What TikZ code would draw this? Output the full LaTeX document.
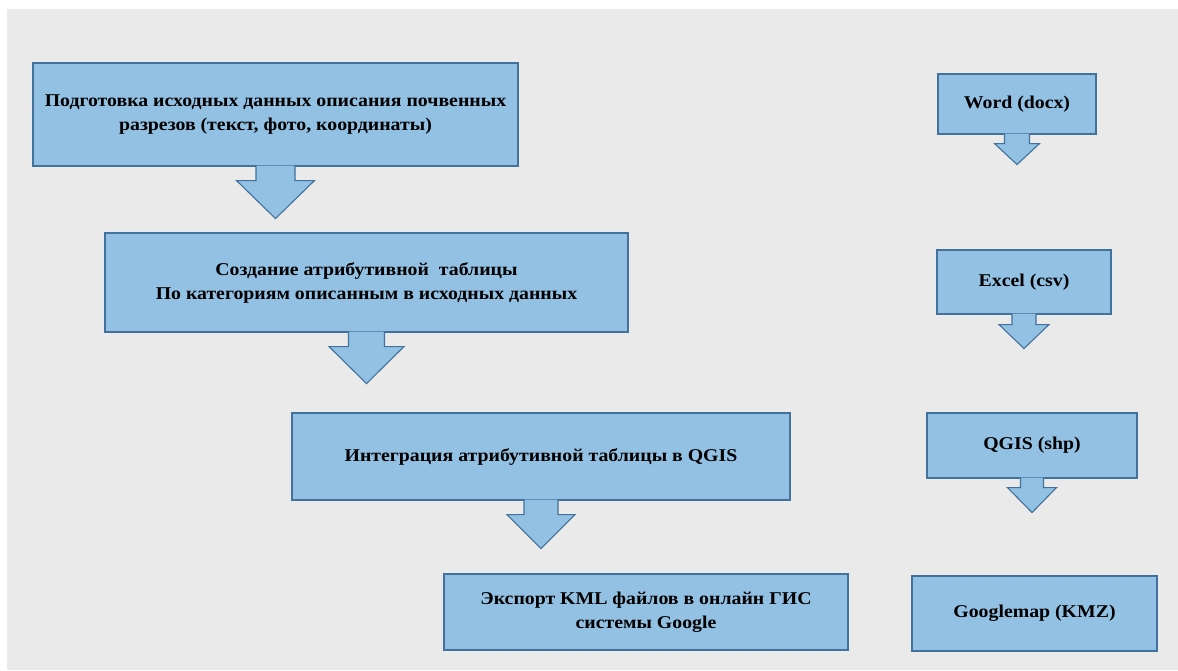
\documentclass[tikz,border=0pt]{standalone}
\usepackage{fontspec}
\setmainfont{Liberation Serif}[FakeStretch=1.1]
\usetikzlibrary{positioning}

\definecolor{boxfill}{HTML}{93C1E3}
\definecolor{boxline}{HTML}{41719C}
\definecolor{backgr}{HTML}{EAEAEA}

\tikzset{
  stagebox/.style={rectangle, draw=boxline, fill=boxfill, line width=1.1pt,
    align=center, inner sep=0pt, text=black,
    font=\bfseries\fontsize{18}{24}\selectfont},
  downarrow/.style={draw=boxline, fill=boxfill, line width=1.1pt, line join=miter},
}

% block arrow under a box: node, shaft half width, head half width, head start, tip
\newcommand{\blockarrow}[5]{%
  \filldraw[downarrow, shift={(#1.south)}]
    (-#2,-1) -- (-#2,#4) -- (-#3,#4) -- (0,#5) -- (#3,#4) -- (#2,#4) -- (#2,-1);
}

\begin{document}
\begin{tikzpicture}[x=1pt, y=-1pt]
  \useasboundingbox (0,0) rectangle (1178,670);
  \fill[white] (0,0) rectangle (1178,670);
  \fill[backgr] (7,9) rectangle (1178,670);

  % left column: work stages
  \node[stagebox, minimum width=485pt, minimum height=103pt] (prep) at (275.5,114.5)
    {Подготовка исходных данных описания почвенных\\
     разрезов (текст, фото, координаты)};
  \node[stagebox, minimum width=523pt, minimum height=99pt] (table) at (366.5,282.5)
    {Создание атрибутивной\ \ таблицы\\
     По категориям\ описанным в исходных данных};
  \node[stagebox, minimum width=498pt, minimum height=87pt] (integ) at (541,456.5)
    {Интеграция\ атрибутивной\ таблицы в QGIS};
  \node[stagebox, minimum width=404pt, minimum height=76pt] (export) at (646,612)
    {Экспорт\ KML файлов в онлайн ГИС\\
     системы Google};

  % right column: file formats
  \node[stagebox, minimum width=158pt, minimum height=60pt] (word) at (1017,104)
    {Word\ (docx)};
  \node[stagebox, minimum width=174pt, minimum height=64pt] (excel) at (1024,282)
    {Excel (csv)};
  \node[stagebox, minimum width=210pt, minimum height=65pt] (qgis) at (1032,445.5)
    {QGIS\ (shp)};
  \node[stagebox, minimum width=245pt, minimum height=75pt] (gmap) at (1034.5,613.5)
    {Googlemap\ (KMZ)};

  \blockarrow{prep}{19.5}{39}{14}{52}
  \blockarrow{table}{18}{37.5}{14}{51}
  \blockarrow{integ}{17}{34}{14}{48}
  \blockarrow{word}{12.5}{22.5}{9}{30}
  \blockarrow{excel}{12}{25}{10}{34}
  \blockarrow{qgis}{11.5}{24.5}{9}{34}
\end{tikzpicture}
\end{document}
